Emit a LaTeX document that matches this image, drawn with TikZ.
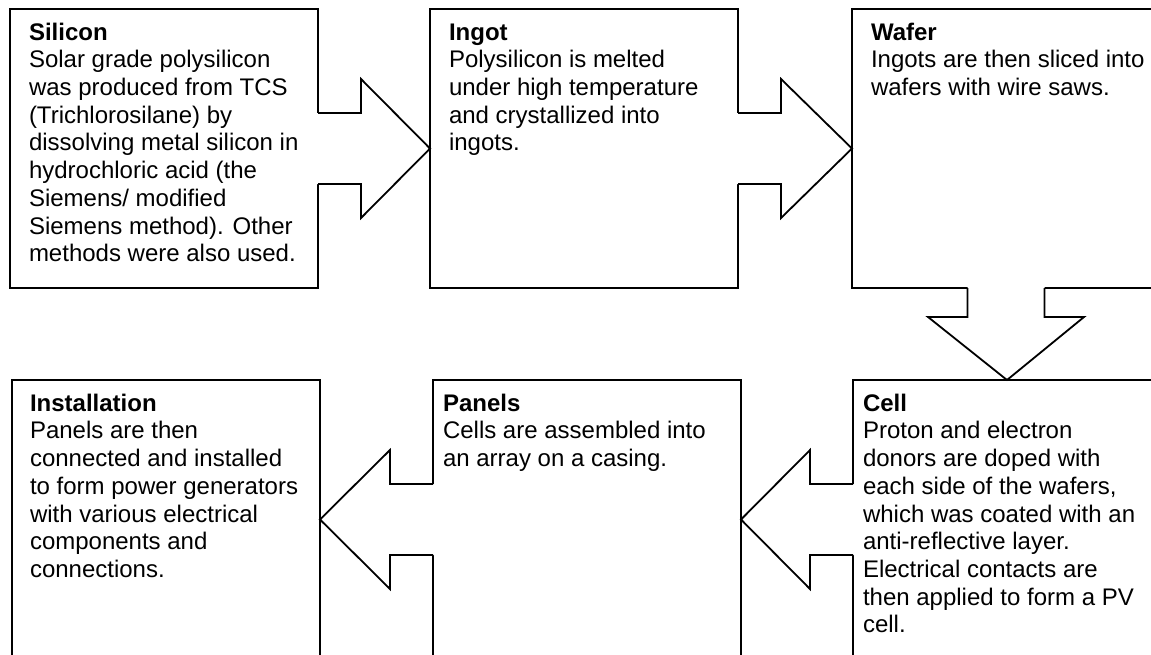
\documentclass[tikz,border=0pt]{standalone}
\usepackage{fontspec}
\setmainfont{Liberation Sans}
\usetikzlibrary{calc}
% horizontal block arrow: #1 tail anchor, #2 tip anchor, #3 head-base offset, #4 overlap into box
\newcommand{\blockH}[4]{%
  \fill[white] ($(#1)+(#4,-35.5)$) -- ($(#1)+(#3,-35.5)$) -- ($(#1)+(#3,-69.5)$) -- (#2)
     -- ($(#1)+(#3,69.5)$) -- ($(#1)+(#3,35.5)$) -- ($(#1)+(#4,35.5)$) -- cycle;
  \draw[ln] ($(#1)+(0,-35.5)$) -- ($(#1)+(#3,-35.5)$) -- ($(#1)+(#3,-69.5)$) -- (#2)
     -- ($(#1)+(#3,69.5)$) -- ($(#1)+(#3,35.5)$) -- ($(#1)+(0,35.5)$);}
% vertical block arrow
\newcommand{\blockV}[4]{%
  \fill[white] ($(#1)+(-38.5,#4)$) -- ($(#1)+(-38.5,#3)$) -- ($(#1)+(-78,#3)$) -- (#2)
     -- ($(#1)+(78,#3)$) -- ($(#1)+(38.5,#3)$) -- ($(#1)+(38.5,#4)$) -- cycle;
  \draw[ln] ($(#1)+(-38.5,0)$) -- ($(#1)+(-38.5,#3)$) -- ($(#1)+(-78,#3)$) -- (#2)
     -- ($(#1)+(78,#3)$) -- ($(#1)+(38.5,#3)$) -- ($(#1)+(38.5,0)$);}
\begin{document}
\begin{tikzpicture}[x=0.5pt,y=-0.5pt,
  ln/.style={line width=0.9pt, line join=miter},
  box/.style={draw, ln, rectangle, minimum width=154pt, minimum height=139.5pt, inner sep=0pt, outer sep=0pt},
  txt/.style={anchor=north west, inner sep=0pt, outer sep=0pt, align=left, font=\fontsize{12}{13.85}\selectfont}]
\clip (0,0) rectangle (1151,654);
\fill[white] (0,0) rectangle (1151,654);
% boxes
\node[box] (silicon) at (164,148.5) {};
\node[box] (ingot) at (584,148.5) {};
\node[box] (wafer) at (1006,148.5) {};
\node[box] (installation) at (166,519.5) {};
\node[box] (panels) at (587,519.5) {};
\node[box] (cell) at (1007,519.5) {};
% block arrows
\blockH{silicon.east}{ingot.west}{43}{-2}
\blockH{ingot.east}{wafer.west}{43}{-2}
\blockV{wafer.south}{cell.north}{29}{-2}
\blockH{cell.west}{panels.east}{-43}{2}
\blockH{panels.west}{installation.east}{-43}{2}
% texts
\node[txt] (silicontxt) at ($(silicon.north west)+(19,11.8)$) {\strut\textbf{Silicon}\\Solar grade polysilicon\\was produced from TCS\\(Trichlorosilane) by\\dissolving metal silicon in\\hydrochloric acid (the\\Siemens/ modified\\Siemens method). Other\\methods were also used.};
\node[txt] (ingottxt) at ($(ingot.north west)+(19,11.8)$) {\strut\textbf{Ingot}\\Polysilicon is melted\\under high temperature\\and crystallized into\\ingots.};
\node[txt] (wafertxt) at ($(wafer.north west)+(19,11.8)$) {\strut\textbf{Wafer}\\Ingots are then sliced into\\wafers with wire saws.};
\node[txt] (installationtxt) at ($(installation.north west)+(18,11.8)$) {\strut\textbf{Installation}\\Panels are then\\connected and installed\\to form power generators\\with various electrical\\components and\\connections.};
\node[txt] (panelstxt) at ($(panels.north west)+(10,11.8)$) {\strut\textbf{Panels}\\Cells are assembled into\\an array on a casing.};
\node[txt] (celltxt) at ($(cell.north west)+(10,11.8)$) {\strut\textbf{Cell}\\Proton and electron\\donors are doped with\\each side of the wafers,\\which was coated with an\\anti-reflective layer.\\Electrical contacts are\\then applied to form a PV\\cell.};
\end{tikzpicture}
\end{document}
